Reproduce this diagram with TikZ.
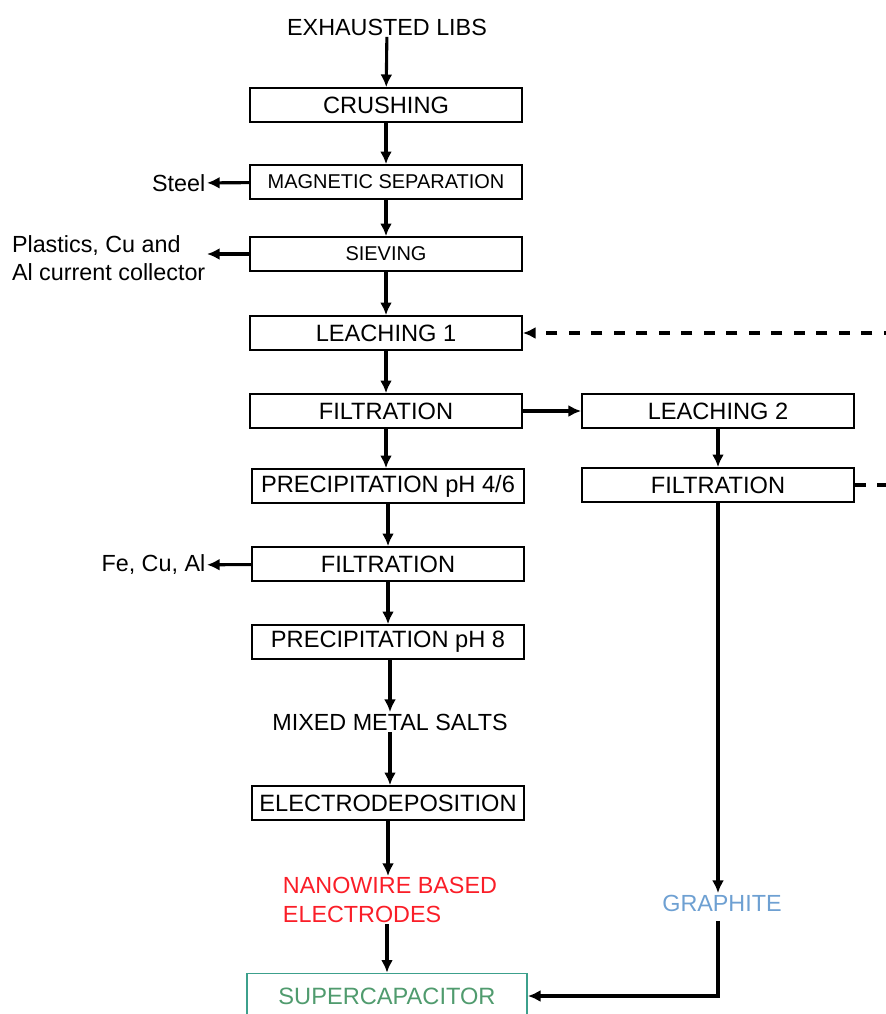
\documentclass[tikz,border=0pt]{standalone}
\usepackage{fontspec}
\setmainfont{Liberation Sans}
\usetikzlibrary{positioning,arrows.meta}
\definecolor{wirered}{RGB}{250,30,40}
\definecolor{graphblue}{RGB}{110,160,210}
\definecolor{capgreen}{RGB}{80,155,110}
\definecolor{capteal}{RGB}{60,160,140}
\begin{document}
\begin{tikzpicture}[x=0.025cm,y=-0.025cm,
  stage/.style={draw,line width=1.2pt,minimum width=6.8cm,minimum height=0.85cm,inner sep=0pt,font=\fontsize{16.8}{20}\selectfont},
  small/.style={font=\fontsize{14.2}{17}\selectfont},
  txt/.style={font=\fontsize{16.6}{20}\selectfont,align=left,inner sep=1pt},
  flow/.style={-{Latex[length=9pt,width=8.5pt]},line width=2.2pt},
  back/.style={flow,dash pattern=on 8pt off 8pt}]
\useasboundingbox (0,0) rectangle (886,1014);
% main line
\node[txt] (libs) at (387,27) {EXHAUSTED LIBS};
\node[stage] (crush) at (386,105) {CRUSHING};
\node[stage,small] (magnet) at (386,182) {MAGNETIC SEPARATION};
\node[stage,small] (sieve) at (386,254) {SIEVING};
\node[stage] (leach1) at (386,333) {LEACHING 1};
\node[stage] (filt1) at (386,411) {FILTRATION};
\node[stage] (prec1) at (388,486) {PRECIPITATION pH 4/6};
\node[stage] (filt2) at (388,564) {FILTRATION};
\node[stage] (prec2) at (388,642) {PRECIPITATION pH 8};
\node[txt] (salts) at (390,722) {MIXED METAL SALTS};
\node[stage] (elec) at (388,803) {ELECTRODEPOSITION};
\node[txt,wirered] (wire) at (390,900) {NANOWIRE BASED\\ELECTRODES};
\node[stage,draw=capteal,text=capgreen,minimum height=1.125cm,minimum width=7cm] (super) at (387,996) {SUPERCAPACITOR};
% second line
\node[stage] (leach2) at (718,411) {LEACHING 2};
\node[stage] (filt3) at (718,485) {FILTRATION};
\node[txt,graphblue] (graph) at (722,903) {GRAPHITE};
% by-products
\node[txt,anchor=east] (steel) at (207,183) {Steel};
\node[txt,anchor=east] (plastic) at (207,258) {Plastics, Cu and\\Al current collector};
\node[txt,anchor=east] (metals) at (207,565) {Fe, Cu, Al};

\draw[flow] (libs) -- (crush);
\draw[flow] (crush) -- (magnet);
\draw[flow] (magnet) -- (sieve);
\draw[flow] (sieve) -- (leach1);
\draw[flow] (leach1) -- (filt1);
\draw[flow] (filt1) -- (filt1 |- prec1.north);
\draw[flow] (prec1) -- (filt2);
\draw[flow] (filt2) -- (prec2);
\draw[flow] (prec2.south -| salts) -- (salts);
\draw[flow] (salts) -- (salts |- elec.north);
\draw[flow] (elec) -- (elec |- wire.north);
\draw[flow] (wire.south -| super) -- (super);
\draw[flow] (magnet) -- (steel);
\draw[flow] (sieve.west) -- (sieve.west -| plastic.east);
\draw[flow] (filt2) -- (metals);
\draw[flow] (filt1) -- (leach2);
\draw[flow] (leach2) -- (filt3);
\draw[flow] (filt3) -- (filt3 |- graph.north);
\draw[flow] (graph.south -| filt3) ++(0,8) |- (super);
\draw[back] (filt3.east) -- ++(34,0) |- (leach1.east);
\end{tikzpicture}
\end{document}
